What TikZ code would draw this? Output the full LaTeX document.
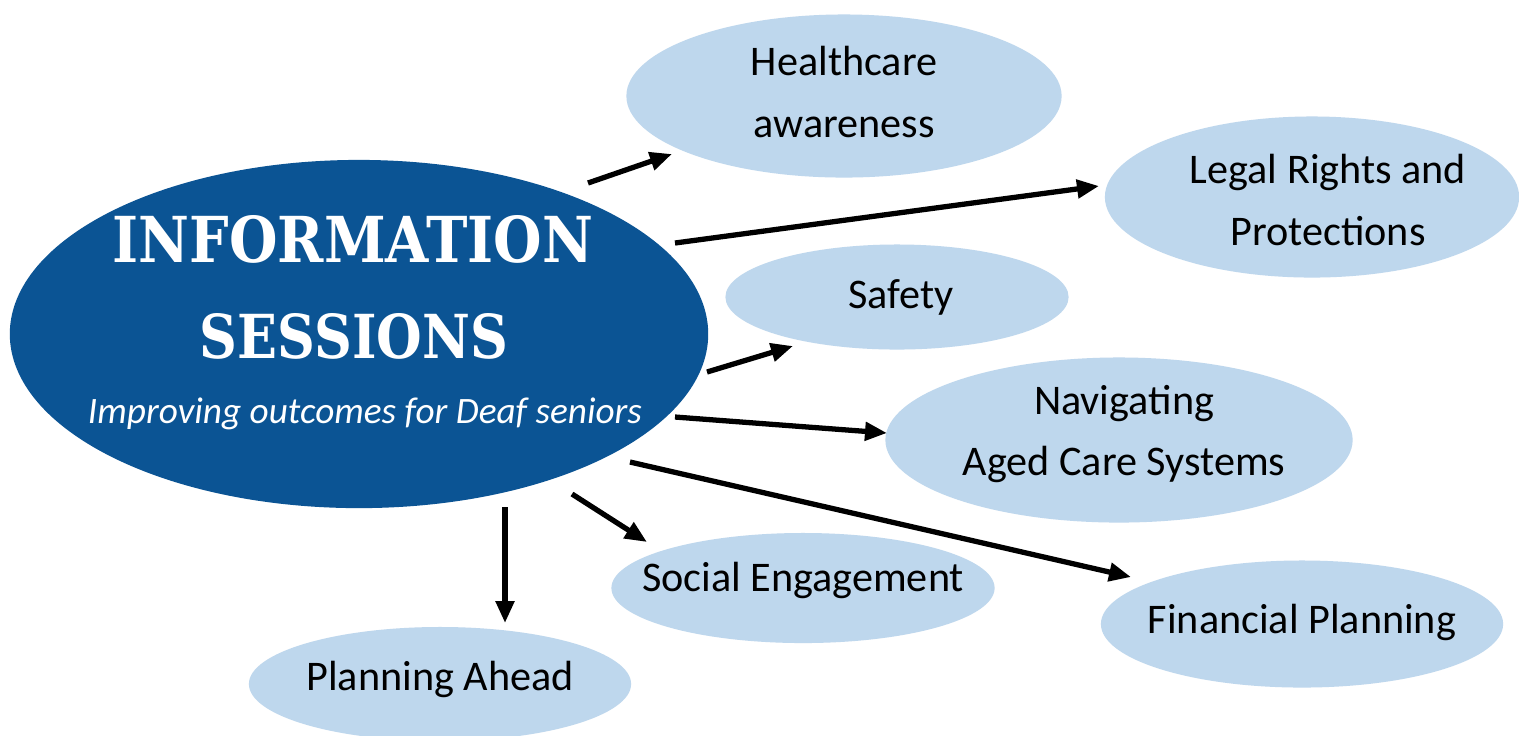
\documentclass[tikz,border=0pt]{standalone}
\usepackage{fontspec}
\setmainfont{Carlito}
\newfontfamily\titlefont{DejaVu Serif}
\usetikzlibrary{shapes.geometric,arrows.meta}
\definecolor{mainblue}{RGB}{11,84,148}
\definecolor{lightblue}{RGB}{190,215,237}
\tikzset{
  topic/.style={ellipse, fill=lightblue, draw=none, inner sep=0pt},
  topictext/.style={align=center, font=\fontsize{12}{17.6}\selectfont, text=black, inner sep=0pt},
  link/.style={line width=1.5pt, -{Triangle[length=0.22cm,width=0.18cm]}}
}
\begin{document}
\begin{tikzpicture}[x=0.01cm,y=-0.01cm]
\clip (0,0) rectangle (1519,735);
\useasboundingbox (0,0) rectangle (1519,735);
\fill[white] (0,0) rectangle (1519,735);
% central ellipse
\node[ellipse, fill=mainblue, minimum width=6.98cm, minimum height=3.48cm, inner sep=0pt] (main) at (359,334) {};
\node[text=white, inner sep=0pt] (t1) at (353,239) {\resizebox{4.8cm}{0.47cm}{\titlefont\bfseries INFORMATION}};
\node[text=white, inner sep=0pt] (t2) at (354,336) {\resizebox{3.08cm}{0.45cm}{\titlefont\bfseries SESSIONS}};
\node[text=white, inner sep=0pt, font=\fontsize{10.6}{13}\selectfont\itshape] (t3) at (365,414) {Improving outcomes for Deaf seniors};
% topics
\node[topic, minimum width=4.35cm, minimum height=1.63cm,
  label={[topictext, yshift=0.04cm]center:Healthcare\\awareness}] (health) at (844,96) {};
\node[topic, minimum width=4.14cm, minimum height=1.61cm,
  label={[topictext, xshift=0.16cm, yshift=-0.03cm]center:Legal Rights and\\Protections}] (legal) at (1312,197) {};
\node[topic, minimum width=3.43cm, minimum height=1.05cm,
  label={[topictext, xshift=0.04cm]center:Safety}] (safety) at (897,297) {};
\node[topic, minimum width=4.67cm, minimum height=1.65cm,
  label={[topictext, xshift=0.05cm, yshift=0.06cm]center:Navigating\\Aged Care Systems}] (nav) at (1119,440) {};
\node[topic, minimum width=3.83cm, minimum height=1.10cm,
  label={[topictext, yshift=0.08cm]center:Social Engagement}] (social) at (803,588) {};
\node[topic, minimum width=4.02cm, minimum height=1.27cm,
  label={[topictext, yshift=0.02cm]center:Financial Planning}] (fin) at (1302,624) {};
\node[topic, minimum width=3.82cm, minimum height=1.14cm,
  label={[topictext, yshift=0.05cm]center:Planning Ahead}] (plan) at (440,684) {};
% connector end points
\coordinate (a1) at (588,183); \coordinate (b1) at (672,154);
\coordinate (a2) at (675,243); \coordinate (b2) at (1099,186);
\coordinate (a3) at (707,372); \coordinate (b3) at (793,346);
\coordinate (a4) at (675,417); \coordinate (b4) at (887,433);
\coordinate (a5) at (630,462); \coordinate (b5) at (1131,577);
\coordinate (a6) at (572,494); \coordinate (b6) at (647,542);
\coordinate (a7) at (505,507); \coordinate (b7) at (505,623);
\draw[link] (a1) -- (b1);
\draw[link] (a2) -- (b2);
\draw[link] (a3) -- (b3);
\draw[link] (a4) -- (b4);
\draw[link] (a5) -- (b5);
\draw[link] (a6) -- (b6);
\draw[link] (a7) -- (b7);
\end{tikzpicture}
\end{document}
